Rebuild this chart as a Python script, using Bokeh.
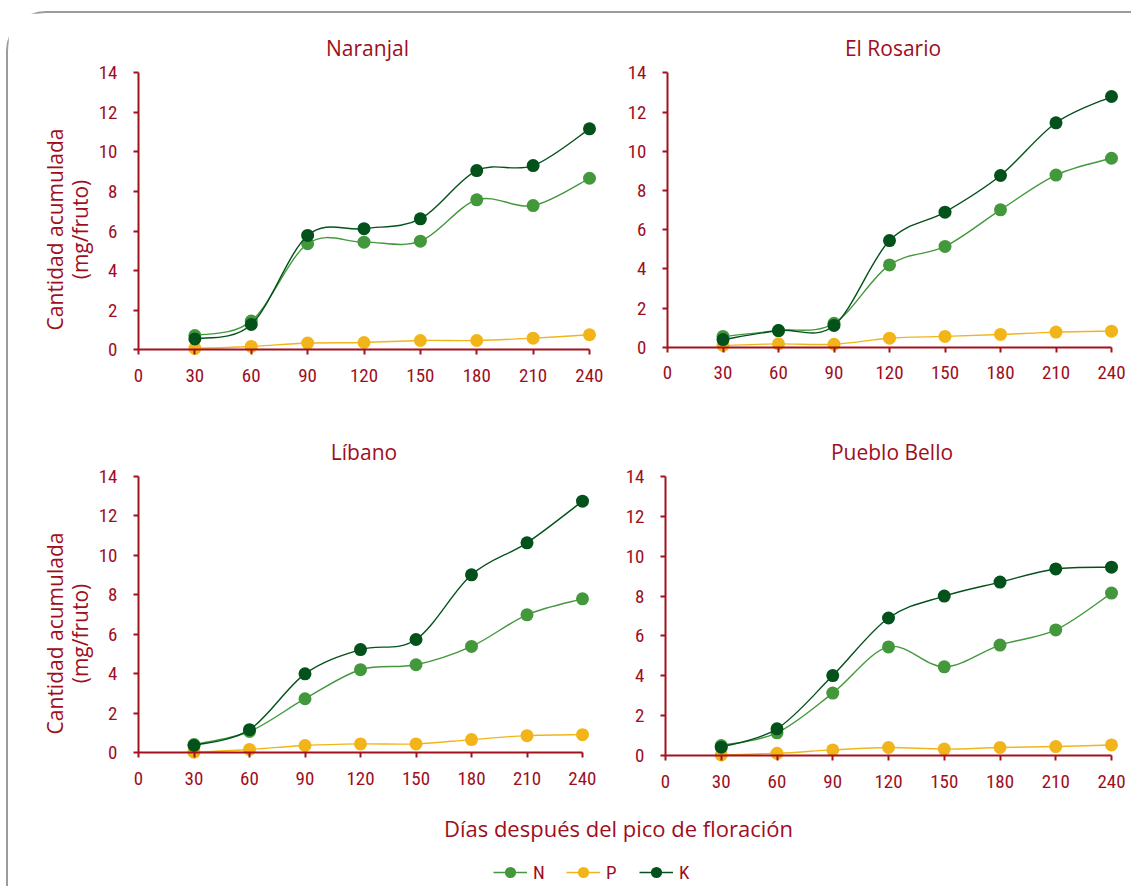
import numpy as np
from bokeh.plotting import figure
from bokeh.layouts import column, row
from bokeh.models import (Range1d, FixedTicker, Legend, LegendItem, Label,
                          ColumnDataSource, LinearAxis)
from bokeh.embed import file_html
from bokeh.resources import INLINE

# ---------------- data ----------------
days = [30, 60, 90, 120, 150, 180, 210, 240]
x_ticks = [0, 30, 60, 90, 120, 150, 180, 210, 240]
y_ticks = [0, 2, 4, 6, 8, 10, 12, 14]

naranjal_N = [0.72, 1.45, 5.36, 5.44, 5.49, 7.58, 7.29, 8.67]
naranjal_P = [0.07, 0.17, 0.34, 0.37, 0.47, 0.47, 0.59, 0.76]
naranjal_K = [0.55, 1.28, 5.78, 6.12, 6.62, 9.06, 9.31, 11.17]

rosario_N = [0.55, 0.85, 1.22, 4.20, 5.14, 7.01, 8.78, 9.64]
rosario_P = [0.09, 0.17, 0.15, 0.46, 0.55, 0.65, 0.77, 0.82]
rosario_K = [0.39, 0.85, 1.11, 5.44, 6.89, 8.76, 11.45, 12.79]

libano_N = [0.42, 1.08, 2.74, 4.21, 4.46, 5.39, 6.99, 7.80]
libano_P = [0.03, 0.17, 0.37, 0.45, 0.45, 0.67, 0.87, 0.92]
libano_K = [0.37, 1.17, 4.00, 5.23, 5.74, 9.02, 10.64, 12.75]

pueblo_N = [0.50, 1.14, 3.13, 5.45, 4.45, 5.54, 6.30, 8.15]
pueblo_P = [0.03, 0.11, 0.28, 0.40, 0.32, 0.40, 0.45, 0.53]
pueblo_K = [0.42, 1.34, 4.01, 6.90, 8.00, 8.70, 9.36, 9.45]

series_names = ["N", "P", "K"]
titles = ["Naranjal", "El Rosario", "Líbano", "Pueblo Bello"]
y_label = "Cantidad acumulada\n(mg/fruto)"
x_label = "Días después del pico de floración"

# ---------------- style ----------------
COLORS = {"N": "#43983c", "P": "#f2b519", "K": "#04521b"}
RED = "#9e0e1d"
AXIS_RED = "#a3111f"
TICK_FONT = "Roboto Condensed, DejaVu Sans Condensed, Liberation Sans Narrow, Roboto, sans-serif"
TEXT_FONT = "Open Sans"
OX, OY = 8, 13      # page position of the layout content


def bezier_source(xs, ys):
    x = np.asarray(xs, float)
    y = np.asarray(ys, float)
    n = len(x)
    xp = np.concatenate([[x[0]], x, [x[-1]]])
    yp = np.concatenate([[y[0]], y, [y[-1]]])
    return ColumnDataSource(dict(
        x0=x[:-1], y0=y[:-1], x1=x[1:], y1=y[1:],
        cx0=x[:-1] + (xp[2:n + 1] - xp[0:n - 1]) / 6.0,
        cy0=y[:-1] + (yp[2:n + 1] - yp[0:n - 1]) / 6.0,
        cx1=x[1:] - (xp[3:n + 2] - xp[1:n]) / 6.0,
        cy1=y[1:] - (yp[3:n + 2] - yp[1:n]) / 6.0,
    ))


def style_ticks(ax):
    ax.major_label_text_font = TICK_FONT
    ax.major_label_text_font_size = "19px"
    ax.major_label_text_color = RED
    ax.minor_tick_line_color = None


def make_panel(title, data, geo, fig_left, fig_top, with_label):
    # geo: frame left/right/top/bottom (page px), page x of 0 and 240,
    #      page y of 14 and 0, title offset, right border
    fl, fr, ft, fb, px0, px240, py14, py0, toff, mbr = geo
    ppu_x = (px240 - px0) / 240.0
    ppu_y = (py0 - py14) / 14.0
    mbl = fl - fig_left
    mbt = ft - fig_top
    p = figure(width=mbl + (fr - fl) + mbr, height=mbt + (fb - ft),
               x_range=Range1d((fl - px0) / ppu_x, (fr - px0) / ppu_x),
               y_range=Range1d((py0 - fb) / ppu_y, (py0 - ft) / ppu_y),
               output_backend="svg", toolbar_location=None,
               min_border_left=mbl, min_border_right=mbr,
               min_border_top=mbt, min_border_bottom=0)
    p.outline_line_color = None
    p.grid.visible = False
    p.background_fill_color = "white"
    p.border_fill_color = "white"

    p.title.text = title
    p.title.align = "center"
    p.title.text_font = TEXT_FONT
    p.title.text_font_size = "21px"
    p.title.text_font_style = "normal"
    p.title.text_color = RED
    p.title.standoff = 17
    p.title.offset = toff

    # x axis: line, ticks and labels drawn at y = 0
    xa = p.xaxis[0]
    xa.ticker = FixedTicker(ticks=x_ticks)
    xa.bounds = (0, 240)
    xa.fixed_location = 0
    xa.axis_line_color = AXIS_RED
    xa.axis_line_width = 2
    xa.major_tick_line_color = AXIS_RED
    xa.major_tick_line_width = 2
    xa.major_tick_in = 0
    xa.major_tick_out = 5
    xa.major_label_standoff = 14
    style_ticks(xa)

    # y axis labels (outside the frame)
    ya = p.yaxis[0]
    ya.ticker = FixedTicker(ticks=y_ticks)
    ya.axis_line_color = None
    ya.major_tick_line_color = None
    ya.major_tick_in = 0
    ya.major_tick_out = 0
    ya.major_label_standoff = 14
    style_ticks(ya)
    if with_label:
        ya.axis_label = y_label
        ya.axis_label_text_font = TEXT_FONT
        ya.axis_label_text_font_size = "21px"
        ya.axis_label_text_font_style = "normal"
        ya.axis_label_text_color = RED
        ya.axis_label_text_line_height = 0.9
        ya.axis_label_standoff = 2

    # y axis line and ticks drawn at x = 0
    yl = LinearAxis(ticker=FixedTicker(ticks=y_ticks), bounds=(0, 14), fixed_location=0,
                    axis_line_color=AXIS_RED, axis_line_width=2,
                    major_tick_line_color=AXIS_RED, major_tick_line_width=2,
                    major_tick_in=0, major_tick_out=5, minor_tick_line_color=None,
                    major_label_text_font_size="1px", major_label_text_alpha=0,
                    major_label_standoff=0)
    p.add_layout(yl, "left")

    for s in series_names:
        vals = data[s]
        p.bezier(x0="x0", y0="y0", x1="x1", y1="y1", cx0="cx0", cy0="cy0",
                 cx1="cx1", cy1="cy1", source=bezier_source(days, vals),
                 line_color=COLORS[s], line_width=1.4)
        p.scatter(days, vals, size=13, marker="circle",
                  fill_color=COLORS[s], line_color=None)
    return p


# frame l, r, t, b, x0px, x240px, y14px, y0px, title offset, right border
g_tl = (131, 603, 70, 388, 138, 589, 72.3, 349.3, 2.5, 0)
g_tr = (660, 1125, 70, 388, 667, 1111, 72.3, 346.7, -3, 6)
g_bl = (131, 596, 474, 792, 138, 582, 476, 752.3, -1, 0)
g_br = (658, 1125, 474, 792, 665, 1111, 476, 755, -2, 6)

tl = make_panel(titles[0], dict(N=naranjal_N, P=naranjal_P, K=naranjal_K), g_tl, OX, OY, True)
tr = make_panel(titles[1], dict(N=rosario_N, P=rosario_P, K=rosario_K), g_tr, g_tl[1], OY, False)
row2_top = OY + tl.height
bl = make_panel(titles[2], dict(N=libano_N, P=libano_P, K=libano_K), g_bl, OX, row2_top, True)
br = make_panel(titles[3], dict(N=pueblo_N, P=pueblo_P, K=pueblo_K), g_br, g_bl[1], row2_top, False)

# legend + shared x label
lg_top = row2_top + bl.height
LW, LH = 1120, 886 - lg_top
lg = figure(width=LW, height=LH, x_range=Range1d(0, LW), y_range=Range1d(0, LH),
            x_axis_type=None, y_axis_type=None, output_backend="svg",
            toolbar_location=None, min_border=0)
lg.outline_line_color = None
lg.grid.visible = False
lg.add_layout(Label(x=618 - OX, y=886 - 827, text=x_label, text_align="center",
                    text_baseline="middle", text_font=TEXT_FONT,
                    text_font_size="22px", text_color=RED))
items = []
for s in series_names:
    r1 = lg.line(x=[np.nan], y=[np.nan], line_color=COLORS[s], line_width=1.4)
    r2 = lg.scatter(x=[np.nan], y=[np.nan], marker="circle",
                    fill_color=COLORS[s], line_color=None)
    items.append(LegendItem(label=s, renderers=[r1, r2]))
legend = Legend(items=items, orientation="horizontal", location=(493 - OX, 0),
                glyph_width=34, glyph_height=28, label_standoff=6, label_width=20,
                spacing=13, padding=0, margin=0, border_line_color=None,
                background_fill_alpha=0, label_text_font=TICK_FONT,
                label_text_font_size="19px", label_text_color=RED)
lg.add_layout(legend)

layout = column(row(tl, tr), row(bl, br), lg,
                styles={"border-top": "2px solid #9b9b9b",
                        "border-left": "2px solid #9b9b9b",
                        "border-top-left-radius": "40px",
                        "margin-top": "11px", "margin-left": "6px"})

open("out.html", "w").write(file_html(layout, INLINE))
